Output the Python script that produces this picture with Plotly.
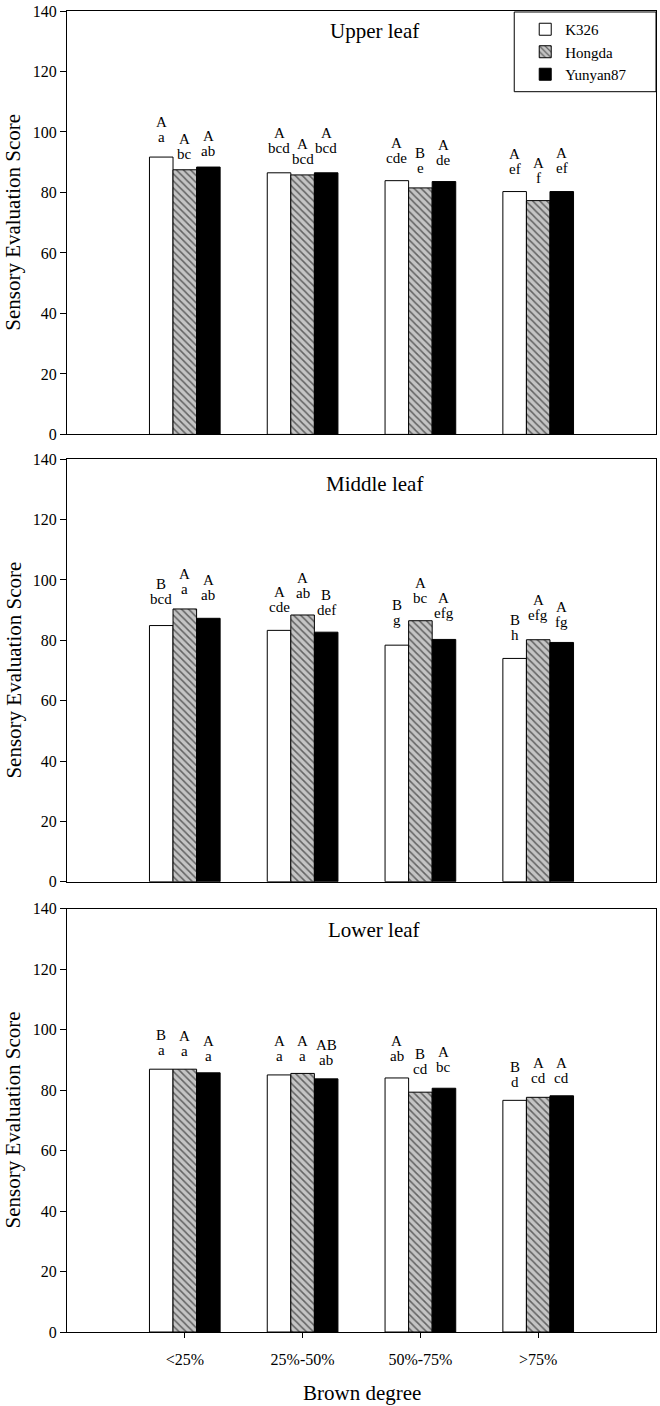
import plotly.graph_objects as go

# ---------------- data ----------------
categories = ["<25%", "25%-50%", "50%-75%", ">75%"]
series_names = ["K326", "Hongda", "Yunyan87"]
panel_titles = ["Upper leaf", "Middle leaf", "Lower leaf"]

upper_k326 = [91.7, 86.5, 83.9, 80.3]
upper_hongda = [87.5, 85.8, 81.5, 77.3]
upper_yunyan87 = [88.4, 86.5, 83.6, 80.3]

middle_k326 = [84.9, 83.3, 78.4, 74.0]
middle_hongda = [90.4, 88.4, 86.5, 80.2]
middle_yunyan87 = [87.3, 82.7, 80.3, 79.3]

lower_k326 = [86.9, 85.0, 84.0, 76.6]
lower_hongda = [86.9, 85.5, 79.3, 77.6]
lower_yunyan87 = [85.7, 83.7, 80.6, 78.1]

# estimated (hidden) error magnitudes that set the height of the letter labels
upper_sd_k326 = [3.4, 5.0, 4.1, 4.0]
upper_sd_hongda = [1.8, 1.8, 3.4, 4.1]
upper_sd_yunyan87 = [2.1, 5.0, 3.8, 4.4]
middle_sd_k326 = [5.4, 4.3, 5.0, 4.5]
middle_sd_hongda = [3.2, 4.0, 4.1, 4.9]
middle_sd_yunyan87 = [4.4, 4.2, 5.5, 3.6]
lower_sd_k326 = [3.2, 2.9, 3.9, 2.8]
lower_sd_hongda = [2.8, 2.4, 4.2, 3.2]
lower_sd_yunyan87 = [2.2, 2.9, 3.8, 2.7]

# significance letters (capital = between cultivars, lowercase = across treatments)
upper_caps_k326 = ["A", "A", "A", "A"]
upper_caps_hongda = ["A", "A", "B", "A"]
upper_caps_yunyan87 = ["A", "A", "A", "A"]
upper_low_k326 = ["a", "bcd", "cde", "ef"]
upper_low_hongda = ["bc", "bcd", "e", "f"]
upper_low_yunyan87 = ["ab", "bcd", "de", "ef"]

middle_caps_k326 = ["B", "A", "B", "B"]
middle_caps_hongda = ["A", "A", "A", "A"]
middle_caps_yunyan87 = ["A", "B", "A", "A"]
middle_low_k326 = ["bcd", "cde", "g", "h"]
middle_low_hongda = ["a", "ab", "bc", "efg"]
middle_low_yunyan87 = ["ab", "def", "efg", "fg"]

lower_caps_k326 = ["B", "A", "A", "B"]
lower_caps_hongda = ["A", "A", "B", "A"]
lower_caps_yunyan87 = ["A", "AB", "A", "A"]
lower_low_k326 = ["a", "a", "ab", "d"]
lower_low_hongda = ["a", "a", "cd", "cd"]
lower_low_yunyan87 = ["a", "ab", "bc", "cd"]

y_ticks = [0, 20, 40, 60, 80, 100, 120, 140]

# ---------------- build ----------------
panels = [
    ([upper_k326, upper_hongda, upper_yunyan87],
     [upper_sd_k326, upper_sd_hongda, upper_sd_yunyan87],
     [upper_caps_k326, upper_caps_hongda, upper_caps_yunyan87],
     [upper_low_k326, upper_low_hongda, upper_low_yunyan87]),
    ([middle_k326, middle_hongda, middle_yunyan87],
     [middle_sd_k326, middle_sd_hongda, middle_sd_yunyan87],
     [middle_caps_k326, middle_caps_hongda, middle_caps_yunyan87],
     [middle_low_k326, middle_low_hongda, middle_low_yunyan87]),
    ([lower_k326, lower_hongda, lower_yunyan87],
     [lower_sd_k326, lower_sd_hongda, lower_sd_yunyan87],
     [lower_caps_k326, lower_caps_hongda, lower_caps_yunyan87],
     [lower_low_k326, lower_low_hongda, lower_low_yunyan87]),
]

FONT = "Liberation Serif"
W, H = 660, 1406
ML, MR, MT, MB = 67, 3, 6, 74
PH = H - MT - MB  # plot height in px
PW = W - ML - MR


def pdom(top_px, bottom_px):
    return [(H - MB - bottom_px) / PH, (H - MB - top_px) / PH]


domains = [pdom(6, 431), pdom(456, 880), pdom(907, 1332)]
title_y = [0.953, 0.941, 0.95]

styles = [
    dict(color="white", line=dict(color="black", width=1)),
    dict(color="#c4c4c4", line=dict(color="black", width=1),
         pattern=dict(shape="\\", fgcolor="black", bgcolor="#c4c4c4", size=5, solidity=0.3)),
    dict(color="black", line=dict(color="black", width=1)),
]

fig = go.Figure()
annotations = []
bar_w = 0.2

for p, (vals, sds, caps, lows) in enumerate(panels):
    ax = "" if p == 0 else str(p + 1)
    for s in range(3):
        fig.add_trace(go.Bar(
            x=categories, y=vals[s], name=series_names[s],
            marker=styles[s], xaxis="x" + ax, yaxis="y" + ax,
            showlegend=(p == 0),
        ))
        for i in range(len(categories)):
            xpos = i + (s - 1) * bar_w
            ytop = vals[s][i] + sds[s][i]
            annotations.append(dict(
                x=xpos, y=ytop, xref="x" + ax, yref="y" + ax, text=lows[s][i],
                showarrow=False, yanchor="bottom", xanchor="center", yshift=0,
                font=dict(family=FONT, size=15, color="black")))
            annotations.append(dict(
                x=xpos, y=ytop, xref="x" + ax, yref="y" + ax, text=caps[s][i],
                showarrow=False, yanchor="bottom", xanchor="center", yshift=15,
                font=dict(family=FONT, size=15, color="black")))
    # panel title
    annotations.append(dict(
        x=0.522, y=title_y[p], xref="x" + ax + " domain", yref="y" + ax + " domain",
        text=panel_titles[p], showarrow=False, xanchor="center", yanchor="middle",
        font=dict(family=FONT, size=21, color="black")))
    # y-axis title
    annotations.append(dict(
        x=(13 - ML) / PW, y=sum(domains[p]) / 2, xref="paper", yref="paper",
        text="Sensory Evaluation Score", textangle=-90, showarrow=False,
        xanchor="center", yanchor="middle",
        font=dict(family=FONT, size=21, color="black")))

annotations.append(dict(
    x=(362 - ML) / PW, y=(H - MB - 1393) / PH, xref="paper", yref="paper", text="Brown degree",
    showarrow=False, xanchor="center", yanchor="middle",
    font=dict(family=FONT, size=21, color="black")))

layout = dict(
    width=W, height=H, margin=dict(l=ML, r=MR, t=MT, b=MB),
    paper_bgcolor="white", plot_bgcolor="white",
    barmode="group", bargap=0.4, bargroupgap=0,
    font=dict(family=FONT, color="black"),
    annotations=annotations,
    legend=dict(x=(526 - ML) / PW, y=(H - MB - 8) / PH,
                xanchor="left", yanchor="top", bgcolor="rgba(0,0,0,0)",
                font=dict(family=FONT, size=15, color="black"),
                tracegroupgap=0, itemclick=False),
    shapes=[dict(type="rect", xref="paper", yref="paper",
                 x0=(515 - ML) / PW, x1=1.0,
                 y0=(H - MB - 87) / PH, y1=(H - MB - 7) / PH,
                 line=dict(color="black", width=1), fillcolor="rgba(0,0,0,0)")],
)

for p in range(3):
    ax = "" if p == 0 else str(p + 1)
    last = p == 2
    layout["xaxis" + ax] = dict(
        domain=[0, 1], anchor="y" + ax, type="category", range=[-1, 4],
        showline=True, mirror=True, linecolor="black", linewidth=1,
        showgrid=False, zeroline=False,
        ticks="outside" if last else "", ticklen=5, tickcolor="black",
        showticklabels=last, tickfont=dict(family=FONT, size=16, color="black"),
        ticklabelstandoff=8,
    )
    layout["yaxis" + ax] = dict(
        domain=domains[p], anchor="x" + ax, range=[0, 140],
        tickvals=y_ticks, showline=True, mirror=True, linecolor="black", linewidth=1,
        showgrid=False, zeroline=False, ticks="outside", ticklen=6, tickcolor="black",
        tickfont=dict(family=FONT, size=16, color="black"),
    )

fig.update_layout(layout)
fig.write_html("out.html", config={"displayModeBar": False},
               post_script="document.body.style.margin='0';")
